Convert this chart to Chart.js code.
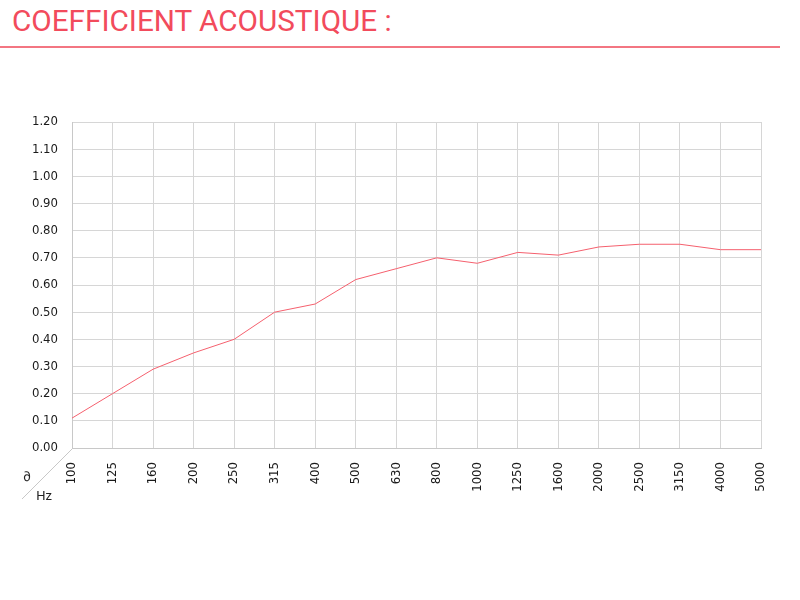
<!DOCTYPE html>
<html>
<head>
<meta charset="utf-8">
<script src="https://cdn.jsdelivr.net/npm/chart.js"></script>
<style>
    body { margin: 0; background: #fff; }
    #wrap { position: relative; width: 800px; height: 600px; }
    #title {
        position: absolute; left: 12px; top: 6px;
        font: 400 29.7px/1 Roboto, sans-serif; color: #f24b5c;
        white-space: nowrap;
    }
    #rule { position: absolute; left: 0; top: 46px; width: 780px; height: 2px; background: #f37682; }
    canvas { position: absolute; left: 0; top: 0; }
</style>
</head>
<body>
<div id="wrap">
    <div id="title">COEFFICIENT ACOUSTIQUE :</div>
    <div id="rule"></div>
    <canvas id="chart" width="800" height="600"></canvas>
</div>
<script>
// Frequences (Hz) et coefficient d'absorption
const frequencies = ['100', '125', '160', '200', '250', '315', '400', '500', '630', '800',
    '1000', '1250', '1600', '2000', '2500', '3150', '4000', '5000'];
const alphaValues = [0.11, 0.20, 0.29, 0.35, 0.40, 0.50, 0.53, 0.62, 0.66, 0.70,
    0.68, 0.72, 0.71, 0.74, 0.75, 0.75, 0.73, 0.73];
const yMin = 0;
const yMax = 1.2;
const yStep = 0.1;

const tickFont = { family: '"DejaVu Sans Condensed", "DejaVu Sans"', size: 13 };

// Diagonale dans le coin avec les unites
const cornerLabels = {
    id: 'cornerLabels',
    afterDraw(chart) {
        const { ctx, chartArea } = chart;
        ctx.save();
        ctx.strokeStyle = '#c8c8c8';
        ctx.lineWidth = 1;
        ctx.beginPath();
        ctx.moveTo(chartArea.left, chartArea.bottom + 1);
        ctx.lineTo(chartArea.left - 50, chartArea.bottom + 51);
        ctx.stroke();
        ctx.fillStyle = '#222';
        ctx.font = '13px Roboto';
        ctx.textAlign = 'center';
        ctx.textBaseline = 'middle';
        ctx.fillText('∂', 27, 478);
        ctx.fillText('Hz', 44, 497);
        ctx.restore();
    }
};

const ctx = document.getElementById('chart').getContext('2d');
new Chart(ctx, {
    type: 'line',
    data: {
        labels: frequencies,
        datasets: [{
            data: alphaValues,
            borderColor: '#f5606e',
            borderWidth: 1,
            pointRadius: 0,
            tension: 0,
            fill: false
        }]
    },
    options: {
        responsive: false,
        animation: false,
        layout: { padding: { left: 0, top: 122, right: 39, bottom: 0 } },
        plugins: { legend: { display: false }, tooltip: { enabled: false } },
        scales: {
            x: {
                grid: { color: '#d6d6d6', drawTicks: false },
                border: { color: '#c8c8c8' },
                ticks: {
                    color: '#1a1a1a', font: tickFont,
                    minRotation: 90, maxRotation: 90, padding: 14, autoSkip: false
                },
                afterFit(axis) { axis.height = 152; }
            },
            y: {
                min: yMin,
                max: yMax,
                grid: { color: '#d6d6d6', drawTicks: false },
                border: { color: '#c8c8c8' },
                ticks: {
                    stepSize: yStep,
                    color: '#1a1a1a', font: tickFont,
                    padding: 14,
                    callback: v => v.toFixed(2)
                },
                afterFit(axis) { axis.width = 72; }
            }
        }
    },
    plugins: [cornerLabels]
});
</script>
</body>
</html>
